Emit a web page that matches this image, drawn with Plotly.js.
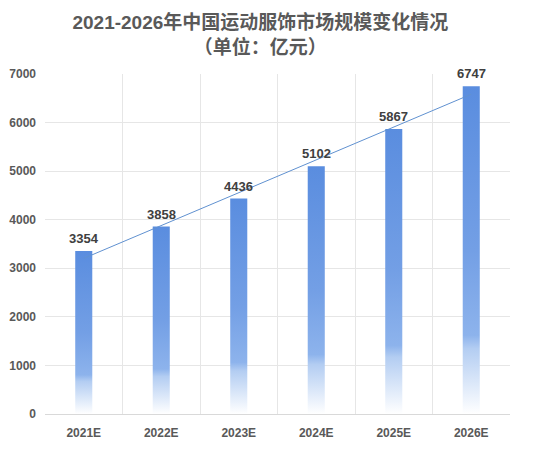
<!DOCTYPE html>
<html>
<head>
<meta charset="utf-8">
<script src="https://cdn.plot.ly/plotly-3.0.1.min.js"></script>
<style>
  html, body { margin: 0; padding: 0; background: #fff; }
  #plot { width: 554px; height: 450px; }
</style>
</head>
<body>
<div id="plot"></div>
<script>
const years = ['2021E', '2022E', '2023E', '2024E', '2025E', '2026E'];
const marketSize = [3354, 3858, 4436, 5102, 5867, 6747];
const yTicks = [0, 1000, 2000, 3000, 4000, 5000, 6000, 7000];

// linear trendline (least squares), as in the source spreadsheet chart
const n = marketSize.length;
const idx = marketSize.map((_, i) => i);
const mx = idx.reduce((a, b) => a + b, 0) / n;
const my = marketSize.reduce((a, b) => a + b, 0) / n;
let sxy = 0, sxx = 0;
idx.forEach((x, i) => { sxy += (x - mx) * (marketSize[i] - my); sxx += (x - mx) * (x - mx); });
const slope = sxy / sxx;
const trend = idx.map(x => my + slope * (x - mx));

const font = 'Liberation Sans, Arial, Noto Sans CJK SC, sans-serif';

const trendTrace = {
  x: years,
  y: trend,
  type: 'scatter',
  mode: 'lines',
  line: { color: 'rgb(96, 145, 208)', width: 1 },
  hoverinfo: 'skip',
};

const bars = {
  x: years,
  y: marketSize,
  type: 'bar',
  width: 0.22,
  marker: { color: 'rgb(90, 141, 223)', line: { width: 0 } },
};

const labels = years.map((yr, i) => ({
  x: yr,
  y: marketSize[i],
  text: '<b>' + marketSize[i] + '</b>',
  showarrow: false,
  yanchor: 'bottom',
  yshift: 3,
  font: { family: font, size: 13, color: '#404040' },
}));

const layout = {
  title: {
    text: '<b>2021-2026年中国运动服饰市场规模变化情况</b><br><b>（单位：亿元）</b>',
    font: { family: 'Liberation Sans, Noto Sans CJK SC, sans-serif', size: 19, color: '#595959' },
    x: 0.47,
    xanchor: 'center',
    y: 0.936,
    yanchor: 'top',
  },
  xaxis: {
    type: 'category',
    tickson: 'boundaries',
    showgrid: true,
    gridcolor: '#E6E6E6',
    showline: true,
    linecolor: '#D9D9D9',
    ticks: '',
    ticklabelstandoff: 8,
    tickfont: { family: font, size: 12, color: '#595959', weight: 'bold' },
    fixedrange: true,
  },
  yaxis: {
    range: [0, 7000],
    tickvals: yTicks,
    showgrid: true,
    gridcolor: '#E6E6E6',
    zeroline: false,
    ticks: '',
    ticklabelstandoff: 8,
    tickfont: { family: font, size: 12, color: '#595959', weight: 'bold' },
    fixedrange: true,
  },
  annotations: labels,
  showlegend: false,
  paper_bgcolor: '#fff',
  plot_bgcolor: '#fff',
  margin: { l: 45, r: 44, t: 74, b: 36 },
};

const config = { displayModeBar: false, staticPlot: true };

Plotly.newPlot('plot', [trendTrace, bars], layout, config).then(gd => {
  // vertical fade on the bars
  const svgNS = 'http://www.w3.org/2000/svg';
  const defs = gd.querySelector('.main-svg defs');
  const grad = document.createElementNS(svgNS, 'linearGradient');
  grad.setAttribute('id', 'barFade');
  grad.setAttribute('x1', '0'); grad.setAttribute('y1', '0');
  grad.setAttribute('x2', '0'); grad.setAttribute('y2', '1');
  [[0, '#5A8DDF'], [0.5, '#739FE5'], [0.76, '#8DB3EC'], [0.8, '#B3CDF2'], [1, '#FFFFFF']].forEach(([o, c]) => {
    const s = document.createElementNS(svgNS, 'stop');
    s.setAttribute('offset', o);
    s.setAttribute('stop-color', c);
    grad.appendChild(s);
  });
  defs.appendChild(grad);
  gd.querySelectorAll('.trace.bars .point path').forEach(p => {
    p.style.fill = 'url(#barFade)';
  });
});
</script>
</body>
</html>
